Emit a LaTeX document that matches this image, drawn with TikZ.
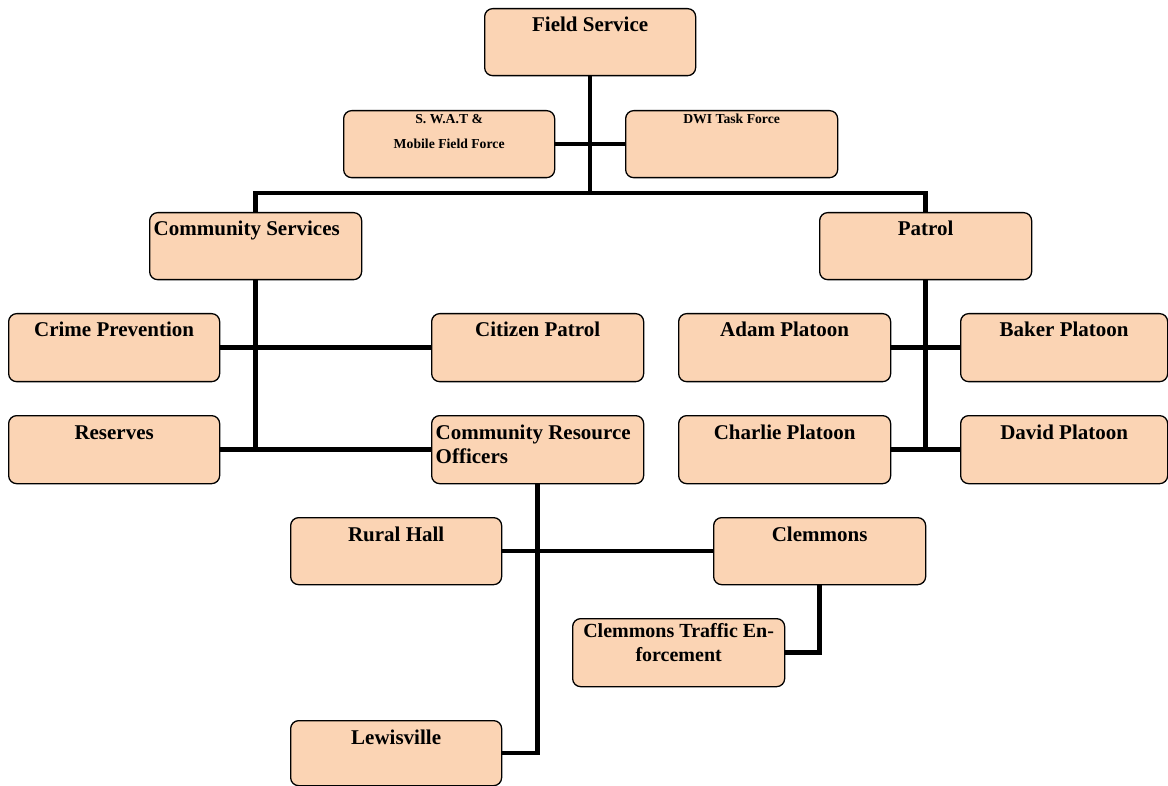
\documentclass[tikz,border=0pt]{standalone}
\usepackage{fontspec}
\setmainfont{Liberation Serif}
\definecolor{peach}{RGB}{251,212,180}
\tikzset{
  orgbox/.style={draw=black, line width=1.3pt, rounded corners=8pt, fill=peach, inner sep=0pt, anchor=north west},
  bigtext/.style={font=\bfseries\fontsize{21}{24.3}\selectfont, inner sep=0pt, anchor=base},
  smalltext/.style={font=\bfseries\fontsize{13.7}{25}\selectfont, inner sep=0pt, anchor=base},
  midtext/.style={font=\bfseries\fontsize{20}{24.3}\selectfont, inner sep=0pt, anchor=base},
  link/.style={line width=4.6pt, black}
}
\newcommand\orgnode[5]{\node[orgbox, minimum width={(#4-#2)*1pt}, minimum height={(#5-#3)*1pt}] (#1) at (#2,#3) {};}
\begin{document}
\begin{tikzpicture}[x=1pt,y=-1pt]
\useasboundingbox (0,0) rectangle (1168,786);
% boxes
\orgnode{fs}{484}{8}{695}{75}
\orgnode{swat}{343}{110}{554}{177}
\orgnode{dwi}{625}{110}{837}{177}
\orgnode{cs}{149}{212}{361}{279}
\orgnode{patrol}{819}{212}{1031}{279}
\orgnode{crime}{8}{313}{219}{381}
\orgnode{citizen}{431}{313}{643}{381}
\orgnode{adam}{678}{313}{890}{381}
\orgnode{baker}{960}{313}{1167}{381}
\orgnode{reserves}{8}{415}{219}{483}
\orgnode{cro}{431}{415}{643}{483}
\orgnode{charlie}{678}{415}{890}{483}
\orgnode{david}{960}{415}{1167}{483}
\orgnode{rural}{290}{517}{501}{584}
\orgnode{clem}{713}{517}{925}{584}
\orgnode{cte}{572}{618}{784}{686}
\orgnode{lew}{290}{720}{501}{785}
% connectors
\coordinate (j1) at (fs.south |- 0,193);
\draw[link] (fs.south) -- (j1);
\draw[link] (cs.north) |- (j1);
\draw[link] (patrol.north) |- (j1);
\draw[link] (swat.east) -- (dwi.west);
\draw[link] (cs.south) -- (cs.south |- reserves.east);
\draw[link] (crime.east) -- (citizen.west);
\draw[link] (reserves.east) -- (cro.west);
\draw[link] (patrol.south) -- (patrol.south |- charlie.east);
\draw[link] (adam.east) -- (baker.west);
\draw[link] (charlie.east) -- (david.west);
\draw[link] (cro.south) |- (lew.east);
\draw[link] (rural.east) -- (clem.west);
\draw[link] (clem.south) |- (cte.east);
% texts
\node[bigtext] (fs-t) at ([yshift=-24pt]fs.north) {Field Service};
\node[smalltext] (swat-t) at ([yshift=-14pt]swat.north) {\begin{tabular}[t]{@{}c@{}}S. W.A.T \&\\Mobile Field Force\end{tabular}};
\node[smalltext] (dwi-t) at ([yshift=-14pt]dwi.north) {DWI Task Force};
\node[bigtext, anchor=base west] (cs-t) at ([xshift=4.5pt,yshift=-24pt]cs.north west) {Community Services};
\node[bigtext] (patrol-t) at ([yshift=-24pt]patrol.north) {Patrol};
\node[bigtext] (crime-t) at ([yshift=-24pt]crime.north) {Crime Prevention};
\node[bigtext] (citizen-t) at ([yshift=-24pt]citizen.north) {Citizen Patrol};
\node[bigtext] (adam-t) at ([yshift=-24pt]adam.north) {Adam Platoon};
\node[bigtext] (baker-t) at ([yshift=-24pt]baker.north) {Baker Platoon};
\node[bigtext] (reserves-t) at ([yshift=-24pt]reserves.north) {Reserves};
\node[bigtext, anchor=base west] (cro-t) at ([xshift=4.5pt,yshift=-24pt]cro.north west) {\begin{tabular}[t]{@{}l@{}}Community Resource\\Officers\end{tabular}};
\node[bigtext] (charlie-t) at ([yshift=-24pt]charlie.north) {Charlie Platoon};
\node[bigtext] (david-t) at ([yshift=-24pt]david.north) {David Platoon};
\node[bigtext] (rural-t) at ([yshift=-24pt]rural.north) {Rural Hall};
\node[bigtext] (clem-t) at ([yshift=-24pt]clem.north) {Clemmons};
\node[midtext] (cte-t) at ([yshift=-19pt]cte.north) {\begin{tabular}[t]{@{}c@{}}Clemmons Traffic En-\\forcement\end{tabular}};
\node[bigtext] (lew-t) at ([yshift=-24pt]lew.north) {Lewisville};
\end{tikzpicture}
\end{document}
